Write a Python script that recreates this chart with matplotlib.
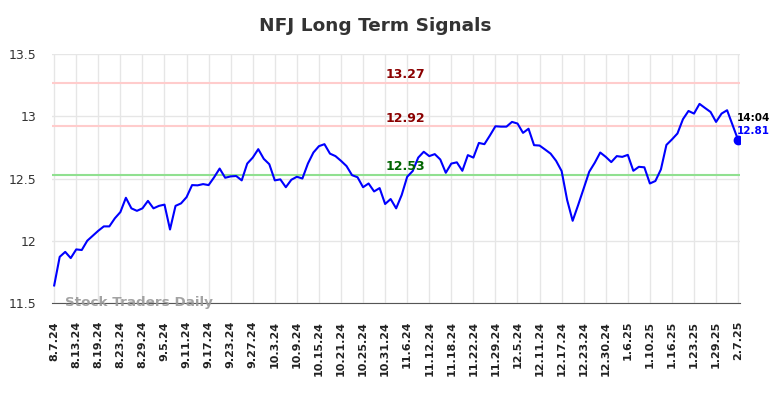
import matplotlib
matplotlib.use('Agg')
import matplotlib.pyplot as plt

# tick labels, one every 4 trading days
tick_labels = ["8.7.24", "8.13.24", "8.19.24", "8.23.24", "8.29.24", "9.5.24",
               "9.11.24", "9.17.24", "9.23.24", "9.27.24", "10.3.24", "10.9.24",
               "10.15.24", "10.21.24", "10.25.24", "10.31.24", "11.6.24", "11.12.24",
               "11.18.24", "11.22.24", "11.29.24", "12.5.24", "12.11.24", "12.17.24",
               "12.23.24", "12.30.24", "1.6.25", "1.10.25", "1.16.25", "1.23.25",
               "1.29.25", "2.7.25"]

# closing prices
prices = [11.64, 11.87, 11.91, 11.86, 11.93, 11.925, 12.00, 12.04, 12.08, 12.115,
          12.115, 12.18, 12.23, 12.345, 12.26, 12.24, 12.26, 12.32, 12.26, 12.28,
          12.29, 12.09, 12.28, 12.30, 12.35, 12.447, 12.445, 12.455, 12.447, 12.51,
          12.58, 12.506, 12.517, 12.52, 12.485, 12.62, 12.668, 12.736, 12.658, 12.615,
          12.485, 12.493, 12.43, 12.49, 12.514, 12.50, 12.62, 12.709, 12.76, 12.776,
          12.70, 12.68, 12.642, 12.60, 12.527, 12.51, 12.43, 12.46, 12.396, 12.423,
          12.295, 12.335, 12.26, 12.367, 12.514, 12.56, 12.668, 12.715, 12.68, 12.696,
          12.653, 12.546, 12.62, 12.63, 12.562, 12.688, 12.668, 12.786, 12.776, 12.846,
          12.92, 12.917, 12.917, 12.955, 12.942, 12.867, 12.90, 12.768, 12.765, 12.733,
          12.70, 12.642, 12.56, 12.327, 12.16, 12.287, 12.42, 12.554, 12.626, 12.709,
          12.674, 12.632, 12.68, 12.674, 12.69, 12.562, 12.594, 12.59, 12.46, 12.48,
          12.573, 12.77, 12.814, 12.862, 12.977, 13.043, 13.022, 13.10, 13.067, 13.035,
          12.955, 13.022, 13.049, 12.929, 12.81]

resistance = [13.27, 12.92]
support = [12.53]
last_time = "14:04"

fig = plt.figure(figsize=(7.84, 3.98), dpi=100)
ax = fig.add_axes([0.0663, 0.239, 0.878, 0.625])

x = list(range(len(prices)))
ax.plot(x, prices, color="#0000ff", linewidth=1.5, zorder=3)
ax.plot(x[-1], prices[-1], "o", color="#0000ff", markersize=6, zorder=4)

for lvl in resistance:
    ax.axhline(lvl, color="#ffcccc", linewidth=1.5, zorder=2)
    ax.text(63.6, lvl + 0.012, f"{lvl:.2f}", color="#8b0000", fontsize=9,
            fontweight="bold", ha="center", va="bottom")
for lvl in support:
    ax.axhline(lvl, color="#90e090", linewidth=1.5, zorder=2)
    ax.text(63.6, lvl + 0.012, f"{lvl:.2f}", color="#006400", fontsize=9,
            fontweight="bold", ha="center", va="bottom")

# last price annotation
ax.annotate(last_time, (x[-1], prices[-1]), xytext=(-1, 16), textcoords="offset points",
            fontsize=7.5, fontweight="bold", color="black", ha="left", va="center")
ax.annotate(f"{prices[-1]:.2f}", (x[-1], prices[-1]), xytext=(-1, 6.5), textcoords="offset points",
            fontsize=7.5, fontweight="bold", color="#0000ff", ha="left", va="center")

ax.text(2, 11.5, "Stock Traders Daily", color="#999999", fontsize=9.7, fontweight="bold",
        ha="left", va="center", alpha=0.9, zorder=5)

ax.set_xlim(-0.4, len(prices) - 0.6)
ax.set_ylim(11.5, 13.5)
ax.set_xticks(range(0, len(prices), 4))
ax.set_xticklabels(tick_labels, rotation=90, fontsize=8, fontweight="bold", color="#222222")
ax.set_yticks([11.5, 12, 12.5, 13, 13.5])
ax.set_yticklabels(["11.5", "12", "12.5", "13", "13.5"], fontsize=9, color="#333333")
ax.tick_params(axis="x", length=0, pad=13)
ax.tick_params(axis="y", length=0, pad=11)
ax.grid(True, color="#e6e6e6", linewidth=1)
ax.set_axisbelow(True)
for side in ["top", "right", "left"]:
    ax.spines[side].set_visible(False)
ax.spines["bottom"].set_color("#555555")

fig.text(0.478, 0.935, "NFJ Long Term Signals", fontsize=13.3, fontweight="bold",
         color="#333333", ha="center", va="center")

fig.savefig("out.png", dpi=100)
